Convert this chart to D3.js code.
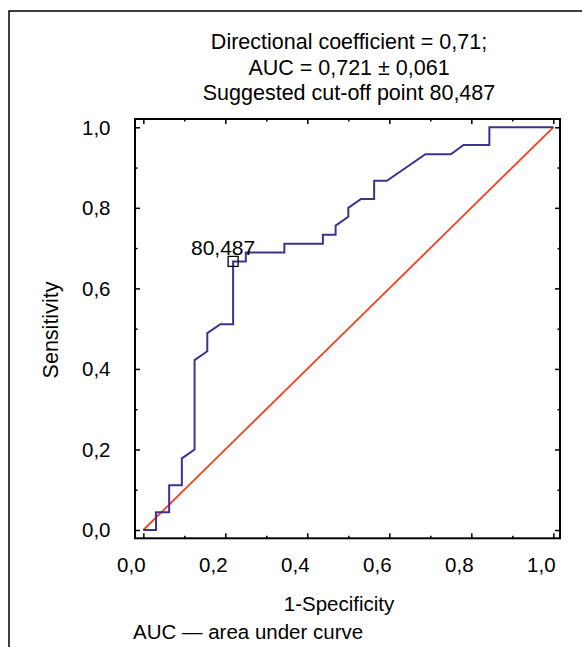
<!DOCTYPE html>
<html>
<head>
<meta charset="utf-8">
<script src="https://cdn.jsdelivr.net/npm/d3@7"></script>
<style>
  body { margin: 0; background: #fff; }
  svg text { font-family: "Liberation Sans", Arial, Helvetica, sans-serif; fill: #000; }
</style>
</head>
<body>
<div id="vis"></div>
<script>
// ROC curve (1-specificity, sensitivity)
var fpr = [0, 0.031, 0.031, 0.063, 0.063, 0.094, 0.094, 0.125, 0.125, 0.156, 0.156, 0.188,
           0.219, 0.219, 0.25, 0.25, 0.344, 0.344, 0.438, 0.438, 0.469, 0.469, 0.5, 0.5,
           0.531, 0.563, 0.563, 0.594, 0.688, 0.75, 0.781, 0.844, 0.844, 1.0];
var tpr = [0, 0, 0.044, 0.044, 0.111, 0.111, 0.178, 0.2, 0.422, 0.444, 0.489, 0.511,
           0.511, 0.667, 0.667, 0.689, 0.689, 0.711, 0.711, 0.733, 0.733, 0.756, 0.778, 0.8,
           0.822, 0.822, 0.867, 0.867, 0.933, 0.933, 0.956, 0.956, 1.0, 1.0];
var refLine = [[0, 0], [1, 1]];
var cutoff = {x: 0.219, y: 0.667, label: '80,487'};

var majorTicks = [0, 0.2, 0.4, 0.6, 0.8, 1.0];
var minorTicks = [0.1, 0.3, 0.5, 0.7, 0.9];
var tickLabels = ['0,0', '0,2', '0,4', '0,6', '0,8', '1,0'];

var titleLines = ['Directional coefficient = 0,71;', 'AUC = 0,721 \u00b1 0,061', 'Suggested cut-off point 80,487'];
var xTitle = '1-Specificity';
var yTitle = 'Sensitivity';
var note = 'AUC \u2014 area under curve';

var width = 582;
var height = 647;
var frame = {left: 135, right: 560, top: 119, bottom: 538.3};

var svg = d3.select('#vis')
            .append('svg')
            .attr('width', width)
            .attr('height', height);

// outer border of the figure panel (runs off the right and bottom edges)
svg.append('rect')
   .attr('x', 9).attr('y', 11)
   .attr('width', 700).attr('height', 800)
   .attr('fill', 'none')
   .attr('stroke', '#000')
   .attr('stroke-width', 1.5);

var xScale = d3.scaleLinear().domain([-0.0203, 1.0163]).range([frame.left, frame.right]);
var yScale = d3.scaleLinear().domain([-0.0206, 1.0206]).range([frame.bottom, frame.top]);

// title
svg.selectAll('.title')
   .data(titleLines)
   .enter()
   .append('text')
   .attr('class', 'title')
   .attr('x', 349)
   .attr('y', function(d, i) { return 49 + i * 25.5; })
   .attr('text-anchor', 'middle')
   .style('font-size', '21.5px')
   .text(function(d) { return d; });

// ticks, all pointing inward
function tickAxis(axis, scale, values, size, transform) {
    var g = svg.append('g')
               .attr('class', 'axis')
               .attr('transform', transform)
               .call(axis(scale).tickValues(values).tickSize(-size).tickFormat(''));
    g.select('.domain').remove();
    g.selectAll('line').attr('stroke', '#000').attr('stroke-width', 1.5);
    return g;
}
tickAxis(d3.axisBottom, xScale, majorTicks, 5, 'translate(0,' + frame.bottom + ')');
tickAxis(d3.axisBottom, xScale, minorTicks, 2.5, 'translate(0,' + frame.bottom + ')');
tickAxis(d3.axisTop, xScale, majorTicks, 5, 'translate(0,' + frame.top + ')');
tickAxis(d3.axisTop, xScale, minorTicks, 2.5, 'translate(0,' + frame.top + ')');
tickAxis(d3.axisLeft, yScale, majorTicks, 5, 'translate(' + frame.left + ',0)');
tickAxis(d3.axisLeft, yScale, minorTicks, 2.5, 'translate(' + frame.left + ',0)');
tickAxis(d3.axisRight, yScale, majorTicks, 5, 'translate(' + frame.right + ',0)');
tickAxis(d3.axisRight, yScale, minorTicks, 2.5, 'translate(' + frame.right + ',0)');

// tick labels
svg.selectAll('.xlab')
   .data(majorTicks)
   .enter()
   .append('text')
   .attr('class', 'xlab')
   .attr('x', function(d) { return xScale(d) - 12; })
   .attr('y', 571.7)
   .attr('text-anchor', 'middle')
   .style('font-size', '20.5px')
   .text(function(d, i) { return tickLabels[i]; });

svg.selectAll('.ylab')
   .data(majorTicks)
   .enter()
   .append('text')
   .attr('class', 'ylab')
   .attr('x', frame.left - 24.5)
   .attr('y', function(d) { return yScale(d); })
   .attr('dy', '0.36em')
   .attr('text-anchor', 'end')
   .style('font-size', '20.5px')
   .text(function(d, i) { return tickLabels[i]; });

// frame
svg.append('rect')
   .attr('x', frame.left).attr('y', frame.top)
   .attr('width', frame.right - frame.left)
   .attr('height', frame.bottom - frame.top)
   .attr('fill', 'none')
   .attr('stroke', '#000')
   .attr('stroke-width', 2);

// reference diagonal
var line = d3.line()
             .x(function(d) { return xScale(d[0]); })
             .y(function(d) { return yScale(d[1]); });

svg.append('path')
   .datum(refLine)
   .attr('d', line)
   .attr('fill', 'none')
   .attr('stroke', '#f2401e')
   .attr('stroke-width', 1.8);

// ROC curve
svg.append('path')
   .datum(fpr.map(function(d, i) { return [d, tpr[i]]; }))
   .attr('d', line)
   .attr('fill', 'none')
   .attr('stroke', '#3c3391')
   .attr('stroke-width', 2);

// cut-off marker
svg.append('rect')
   .attr('x', xScale(cutoff.x) - 5)
   .attr('y', yScale(cutoff.y) - 5)
   .attr('width', 10)
   .attr('height', 10)
   .attr('fill', 'none')
   .attr('stroke', '#000')
   .attr('stroke-width', 1.3);

svg.append('text')
   .attr('x', xScale(cutoff.x) - 10)
   .attr('y', yScale(cutoff.y) - 6)
   .attr('text-anchor', 'middle')
   .style('font-size', '21px')
   .text(cutoff.label);

// axis titles
svg.append('text')
   .attr('x', 339)
   .attr('y', 611)
   .attr('text-anchor', 'middle')
   .style('font-size', '20.5px')
   .text(xTitle);

svg.append('text')
   .attr('transform', 'translate(58,330) rotate(-90)')
   .attr('text-anchor', 'middle')
   .style('font-size', '21.5px')
   .text(yTitle);

svg.append('text')
   .attr('x', 133)
   .attr('y', 639)
   .style('font-size', '20.5px')
   .text(note);
</script>
</body>
</html>
